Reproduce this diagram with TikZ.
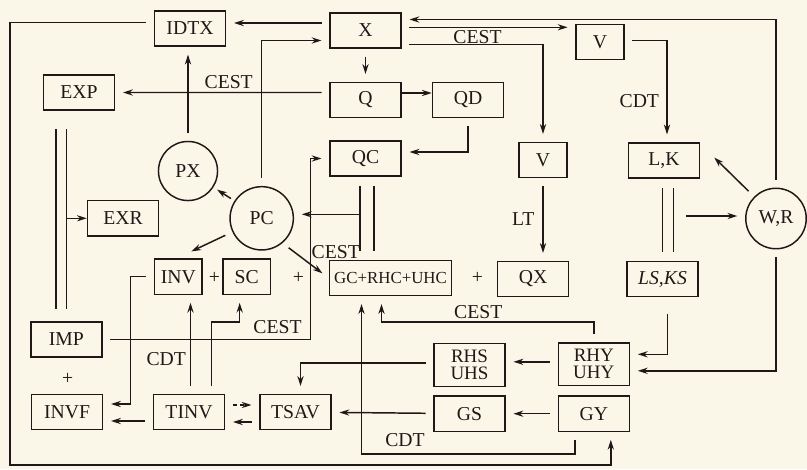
\documentclass[tikz,border=0pt]{standalone}
\usepackage{fontspec}
\setmainfont{Liberation Serif}
\usetikzlibrary{arrows.meta,calc}
\definecolor{paper}{RGB}{251,247,232}
\definecolor{ink}{RGB}{32,24,24}
\begin{document}
\begin{tikzpicture}[x=0.025cm,y=-0.025cm,>={Stealth[length=7pt,width=4.4pt]},
  line width=1.05pt,color=ink,font=\fontsize{14}{16}\selectfont,
  box/.style={draw,minimum width=50.5pt,minimum height=25pt,inner sep=1pt},
  sbox/.style={box,minimum width=34pt},
  tbox/.style={box,minimum height=30.5pt,align=center,font=\fontsize{13.5}{12}\selectfont},
  circ/.style={draw,circle,minimum size=43pt,inner sep=0pt},
  link/.style={->,shorten <=5.5pt,shorten >=5.5pt},
  dbl/.style={double=paper,shorten <=6.5pt,shorten >=6.5pt}]
  \fill[paper] (0,0) rectangle (807,469);
  \useasboundingbox (0,0) rectangle (807,469);

  \node[box] (idtx) at (190,28.5) {IDTX};
  \node[box] (x) at (365.5,30.5) {X};
  \node[sbox] (vt) at (600,42) {V};
  \node[box] (exp) at (79,92.5) {EXP};
  \node[box] (q) at (365.5,100) {Q};
  \node[box] (qd) at (468,100) {QD};
  \node[box] (qc) at (365.5,158.5) {QC};
  \node[sbox] (vm) at (543,160) {V};
  \node[box] (lk) at (664,160.5) {L,K};
  \node[circ] (wr) at (776,218.5) {W,R};
  \node[box] (lsks) at (662.5,279) {\textit{LS,KS}};
  \node[circ,minimum size=42pt] (px) at (188,171) {PX};
  \node[circ,minimum size=45pt] (pc) at (261.7,218.3) {PC};
  \node[box] (exr) at (123,218.3) {EXR};
  \node[sbox] (inv) at (178.3,276.7) {INV};
  \node[sbox] (sc) at (246.7,276.7) {SC};
  \node[box,minimum width=87pt,font=\fontsize{12}{14}\selectfont] (gc) at (390.5,278) {GC+RHC+UHC};
  \node[box] (qx) at (533,279) {QX};
  \node[box] (imp) at (66.3,339.5) {IMP};
  \node[box] (invf) at (67,412) {INVF};
  \node[box] (tinv) at (189,412) {TINV};
  \node[box] (tsav) at (295.5,412) {TSAV};
  \node[tbox] (rhs) at (469.5,365) {RHS\\UHS};
  \node[box] (gs) at (469.5,413.7) {GS};
  \node[tbox] (rhy) at (593.8,364.3) {RHY\\UHY};
  \node[box] (gy) at (593.8,413.7) {GY};

  \node (plus1) at (214.3,277.7) {+};
  \node (plus2) at (298.3,278) {+};
  \node (plus3) at (477.3,277.7) {+};
  \node (plus4) at (67.7,379) {+};
  \node (cest1) at (228.7,81.7) {CEST};
  \node (cest2) at (477.5,36.7) {CEST};
  \node (cdt1) at (639.3,100.8) {CDT};
  \node (lt) at (523.3,219.5) {LT};
  \node (cest3) at (335.8,251.7) {CEST};
  \node (cest4) at (277.5,327.5) {CEST};
  \node (cdt2) at (166.2,359.2) {CDT};
  \node (cest5) at (478.3,311.7) {CEST};
  \node (cdt3) at (405,440) {CDT};

  \coordinate (lowleft) at (10,465);
  \draw[link] ($(idtx.west)+(0,-6)$) -| (lowleft) -| ($(gy.south)+(17,0)$);
  \draw[link] ($(x.west)+(0,-7.5)$) -- ($(idtx.east)+(0,-5.5)$);
  \draw[link] (pc.north) |- ($(x.west)+(0,10)$);
  \draw[link] (x) -- (q);
  \draw[->] ($(q.east)+(0,-7)$) -- ($(qd.west)+(0,-7)$);
  \draw[link] (qd.south) |- ($(qc.east)+(0,-6.5)$);
  \draw[link] ($(q.west)+(0,-7.5)$) -- (exp.east);
  \draw[link] (px.north) -- (px.north |- idtx.south);
  \draw[link] ($(x.east)+(0,-3.2)$) coordinate (xv) -- (xv -| vt.west);
  \draw[link] (wr.north) |- ($(x.east)+(0,-11)$);
  \draw[link] ($(x.east)+(0,14)$) -| (vm.north);
  \draw[link] ($(vt.east)+(0,-1.5)$) -| ($(lk.north)+(3,0)$);
  \draw[link] (vm.south) -- (vm.south |- qx.north);
  \draw[link,shorten >=0pt] (wr.135) -- ($(lk.east)+(14,-3)$);
  \draw[dbl,double distance=6.9pt] ($(lk.south)+(4,0)$) coordinate (dlk) -- (dlk |- lsks.north);
  \draw[link,shorten <=0pt] ($(wr.west)+(-59,-2.5)$) coordinate (wl) -- (wl -| wr.west);
  \draw[link,shorten <=12pt] ($(lsks.south)+(5,0)$) |- ($(rhy.east)+(0,-10)$);
  \draw[link] (wr.south) |- ($(rhy.east)+(0,6.5)$);
  \draw[link] (rhy.north) -- ++(0,-20) -| ($(gc.south)+(-9,0)$);
  \draw[link] ($(rhy.west)+(0,-2.5)$) coordinate (ry) -- (ry -| rhs.east);
  \draw[link] (gy) -- (gs);
  \draw[link] ($(rhs.west)+(0,-2)$) -| ($(tsav.north)+(5,0)$);
  \draw[link] (gs) -- (tsav);
  \draw[link] ($(gy.south)+(-19,0)$) -- ++(0,22) -| ($(gc.south)+(-29,0)$);
  \draw[link,dash pattern=on 3pt off 2pt] ($(tinv.east)+(0,-7)$) coordinate (ta) -- (ta -| tsav.west);
  \draw[link] ($(tsav.west)+(0,10)$) coordinate (tb) -- (tb -| tinv.east);
  \draw[link] ($(tinv.west)+(0,9)$) coordinate (tc) -- (tc -| invf.east);
  \draw[link] (inv.west) -- ++(-23,0) |- ($(invf.east)+(0,-8)$);
  \draw[link] ($(tinv.north)+(1.5,0)$) coordinate (td) -- (td |- inv.south);
  \draw[link] ($(tinv.north)+(22.5,0)$) -- ++(0,-71.5) -| ($(sc.south)+(-7,0)$);
  \draw[link] (imp.east) -| ($(qc.west)+(-19,0)$) -- (qc.west);
  \draw[dbl,double distance=6.5pt,shorten <=13pt,shorten >=9pt] ($(exp.south)+(-17.7,0)$) coordinate (dex) -- (dex |- imp.north);
  \draw[->] ($(exr.west -| dex)+(5.4,0)$) -- (exr.west);
  \draw[dbl,double distance=8.9pt] ($(qc.south)+(1.5,0)$) coordinate (dqc) -- (dqc |- gc.north);
  \draw[link,shorten <=0pt] ($(pc.east -| dqc)+(-7,-4)$) coordinate (pq) -- (pq -| pc.east);
  \draw[link,shorten <=3pt,shorten >=3pt] (pc) -- (px);
  \draw[link,shorten >=0pt] (pc.205) -- ($(inv.north)+(13,-7)$);
  \draw[link] (pc.-50) -- (gc.west);
\end{tikzpicture}
\end{document}
